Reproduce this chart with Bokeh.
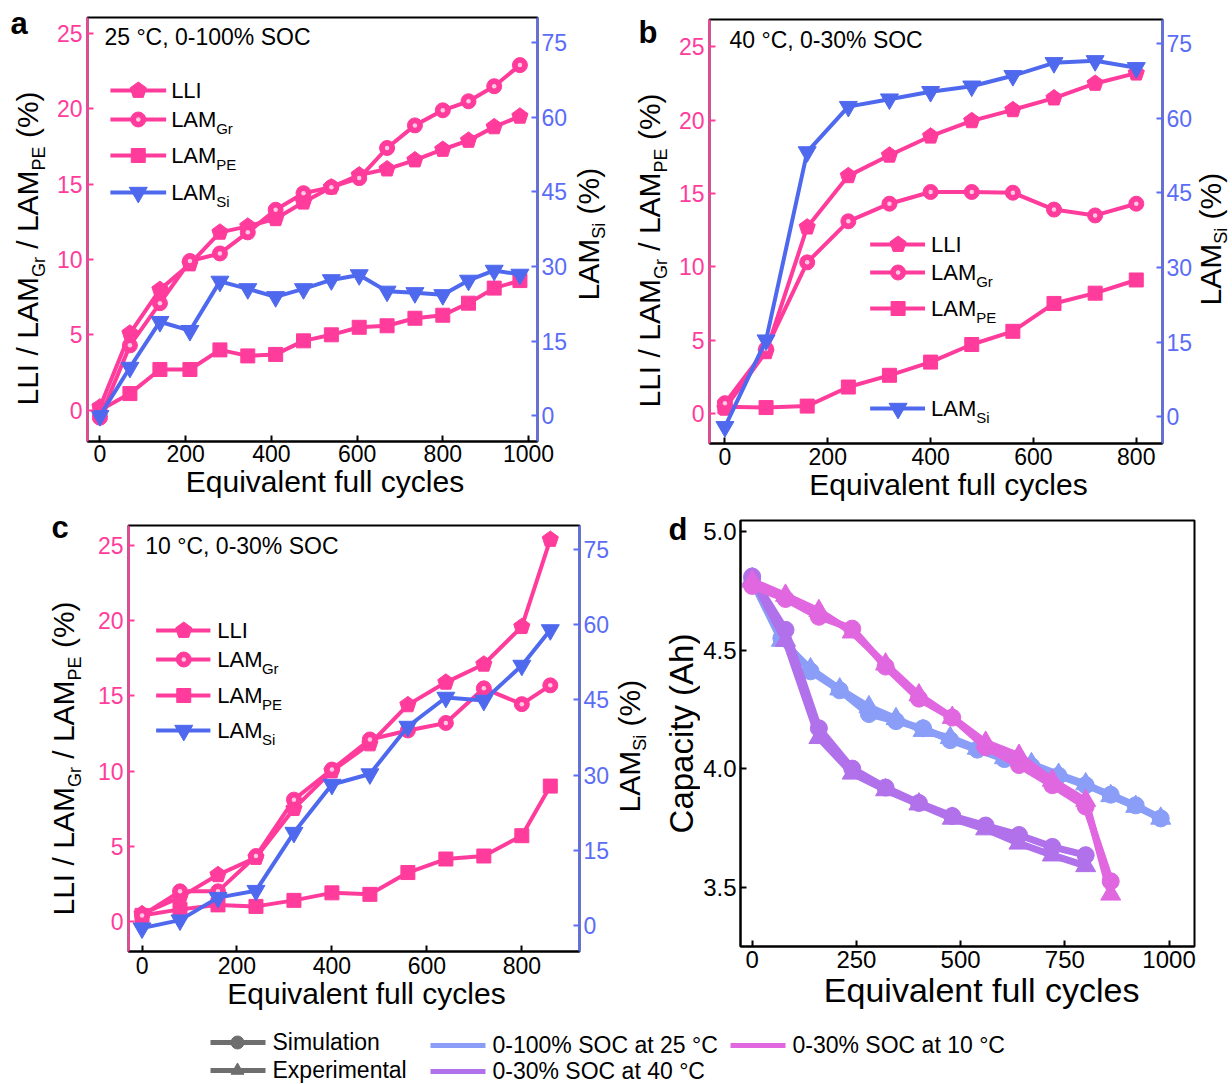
import math
from bokeh.plotting import figure
from bokeh.models import Range1d, LinearAxis, FixedTicker, Label, NumeralTickFormatter
from bokeh.layouts import column, row
from bokeh.embed import file_html
from bokeh.resources import INLINE

FONT = "Liberation Sans"
PINK = "#FF3C9C"
BLUE = "#4F69EE"
BLUE_AX = "#5B6CF6"
C25 = "#8A9EF8"
C40 = "#B071EA"
C10 = "#E067DF"
GRAY = "#6E6E6E"

# ---------------- data ----------------
a_cycles = [0, 70, 140, 210, 280, 345, 410, 475, 540, 605, 670, 735, 800, 860, 920, 980]
a_lli = [0.2, 5.1, 8.0, 9.7, 11.8, 12.2, 12.7, 13.8, 14.8, 15.6, 16.0, 16.6, 17.3, 17.9, 18.8, 19.5]
a_lam_gr = [-0.5, 4.3, 7.1, 9.9, 10.4, 11.8, 13.3, 14.4, 14.8, 15.4, 17.4, 18.9, 19.9, 20.5, 21.5, 22.9]
a_lam_pe = [0.0, 1.1, 2.7, 2.7, 4.0, 3.6, 3.7, 4.6, 5.0, 5.5, 5.6, 6.1, 6.3, 7.1, 8.1, 8.6]
a_lam_si = [0.0, 9.7, 18.9, 17.1, 27.0, 25.5, 23.9, 25.5, 27.3, 28.3, 25.0, 24.7, 24.3, 27.2, 29.2, 28.4]

b_cycles = [0, 80, 160, 240, 320, 400, 480, 560, 640, 720, 800]
b_lli = [0.35, 4.2, 12.7, 16.2, 17.6, 18.9, 19.95, 20.7, 21.5, 22.5, 23.2]
b_lam_gr = [0.7, 4.4, 10.3, 13.1, 14.3, 15.1, 15.1, 15.05, 13.9, 13.5, 14.3]
b_lam_pe = [0.45, 0.4, 0.5, 1.8, 2.6, 3.5, 4.7, 5.6, 7.5, 8.2, 9.1]
b_lam_si = [-2.0, 15.4, 53.2, 62.3, 63.8, 65.3, 66.4, 68.5, 71.1, 71.5, 70.1]

c_cycles = [0, 80, 160, 240, 320, 400, 480, 560, 640, 720, 800, 860]
c_lli = [0.5, 1.6, 3.1, 4.25, 7.5, 10.0, 11.8, 14.4, 15.9, 17.1, 19.6, 25.4]
c_lam_gr = [0.4, 2.0, 2.0, 4.35, 8.1, 10.1, 12.1, 12.7, 13.2, 15.5, 14.45, 15.7]
c_lam_pe = [0.4, 0.8, 1.1, 1.0, 1.4, 1.9, 1.8, 3.25, 4.15, 4.35, 5.7, 9.0]
c_lam_si = [-0.6, 1.0, 5.5, 6.9, 18.5, 28.1, 30.2, 39.7, 45.5, 44.9, 51.9, 59.0]

d_cyc_25 = [0, 70, 140, 210, 280, 345, 410, 475, 540, 605, 670, 735, 800, 860, 920, 980]
d_sim_25 = [4.80, 4.55, 4.41, 4.33, 4.23, 4.20, 4.17, 4.12, 4.08, 4.04, 4.01, 3.97, 3.93, 3.89, 3.845, 3.79]
d_exp_25 = [4.79, 4.54, 4.42, 4.335, 4.26, 4.21, 4.16, 4.13, 4.085, 4.045, 4.02, 3.975, 3.935, 3.885, 3.84, 3.79]
d_cyc_40 = [0, 80, 160, 240, 320, 400, 480, 560, 640, 720, 800]
d_sim_40 = [4.81, 4.585, 4.17, 4.0, 3.92, 3.855, 3.80, 3.76, 3.72, 3.67, 3.635]
d_exp_40 = [4.80, 4.54, 4.13, 3.98, 3.91, 3.85, 3.79, 3.745, 3.685, 3.635, 3.59]
d_cyc_10 = [0, 80, 160, 240, 320, 400, 480, 560, 640, 720, 800, 860]
d_sim_10 = [4.77, 4.715, 4.64, 4.59, 4.43, 4.295, 4.215, 4.09, 4.015, 3.93, 3.84, 3.525]
d_exp_10 = [4.79, 4.73, 4.665, 4.575, 4.44, 4.31, 4.215, 4.11, 4.055, 3.95, 3.865, 3.47]

left_ticks = [0, 5, 10, 15, 20, 25]
right_ticks = [0, 15, 30, 45, 60, 75]
d_y_ticks = [3.5, 4.0, 4.5, 5.0]
d_x_ticks = [0, 250, 500, 750, 1000]

# ---------------- helpers ----------------
AW = {' ': 278, '!': 278, '(': 333, ')': 333, '%': 889, '/': 278, '-': 333, ',': 278, '.': 278, '°': 400,
      'A': 667, 'B': 667, 'C': 722, 'D': 722, 'E': 667, 'F': 611, 'G': 778, 'H': 722, 'I': 278, 'J': 500,
      'K': 667, 'L': 556, 'M': 833, 'N': 722, 'O': 778, 'P': 667, 'Q': 778, 'R': 722, 'S': 667, 'T': 611,
      'U': 722, 'V': 667, 'W': 944, 'X': 667, 'Y': 667, 'Z': 611,
      'a': 556, 'b': 556, 'c': 500, 'd': 556, 'e': 556, 'f': 278, 'g': 556, 'h': 556, 'i': 222, 'j': 222,
      'k': 500, 'l': 222, 'm': 833, 'n': 556, 'o': 556, 'p': 556, 'q': 556, 'r': 333, 's': 500, 't': 278,
      'u': 556, 'v': 500, 'w': 722, 'x': 500, 'y': 500, 'z': 500}
for _d in "0123456789":
    AW[_d] = 556
MID = 0.358  # cap-centre above the baseline, in em
NB = "\u00a0"


def tw(text, size):
    return sum(AW.get(ch, 556) for ch in text) * size / 1000.0


class Geo:
    """maps page pixels to data coordinates of one figure"""
    def __init__(self, fl, ft, fr, fb, xr, yr):
        self.fl, self.ft, self.fr, self.fb = fl, ft, fr, fb
        self.xr, self.yr = xr, yr

    def d(self, px, py):
        x = self.xr[0] + (px - self.fl) / (self.fr - self.fl) * (self.xr[1] - self.xr[0])
        y = self.yr[1] - (py - self.ft) / (self.fb - self.ft) * (self.yr[1] - self.yr[0])
        return x, y


PAGE = Geo(0, 0, 1, 1, (0, 1), (1, 0))  # identity for page-coordinate strips


def base_fig(ox, oy, w, h, fl, ft, fr, fb, xr, yr):
    p = figure(width=w, height=h, x_range=Range1d(*xr), y_range=Range1d(*yr), title=None,
               output_backend="svg", toolbar_location=None,
               min_border_left=fl - ox, min_border_right=ox + w - fr,
               min_border_top=ft - oy, min_border_bottom=oy + h - fb)
    p.xgrid.visible = False
    p.ygrid.visible = False
    p.outline_line_color = "black"
    p.outline_line_width = 2
    p.background_fill_color = "white"
    p.border_fill_color = "white"
    return p, Geo(fl, ft, fr, fb, xr, yr)


def strip(ox, oy, w, h):
    s = figure(width=w, height=h, x_range=Range1d(ox, ox + w), y_range=Range1d(oy + h, oy),
               title=None, output_backend="svg", toolbar_location=None,
               x_axis_type=None, y_axis_type=None,
               min_border_left=0, min_border_right=0, min_border_top=0, min_border_bottom=0)
    s.outline_line_color = None
    s.xgrid.visible = False
    s.ygrid.visible = False
    s.background_fill_color = "white"
    s.border_fill_color = "white"
    return s


def style_axis(ax, color, label_color, ticks, size, standoff, tick_in=6):
    ax.ticker = FixedTicker(ticks=ticks)
    ax.axis_line_color = color
    ax.axis_line_width = 2
    ax.major_tick_line_color = color
    ax.major_tick_line_width = 2
    ax.major_tick_in = tick_in
    ax.major_tick_out = 0
    ax.minor_tick_line_color = None
    ax.major_label_text_font = FONT
    ax.major_label_text_font_size = f"{size}px"
    ax.major_label_text_color = label_color
    ax.major_label_standoff = standoff


def set_title(ax, text, size, standoff=0):
    ax.axis_label = text
    ax.axis_label_text_font = FONT
    ax.axis_label_text_font_size = f"{size}px"
    ax.axis_label_text_font_style = "normal"
    ax.axis_label_text_color = "black"
    ax.axis_label_standoff = standoff


def htext(p, geo, px, pybase, text, size, color="black", bold=False):
    x, y = geo.d(px, pybase - MID * size)
    p.add_layout(Label(x=x, y=y, text=text, text_font=FONT, text_font_size=f"{size}px",
                       text_font_style="bold" if bold else "normal", text_color=color,
                       text_align="left", text_baseline="middle"))


def hpieces(p, geo, px, pybase, pieces, color="black"):
    x = px
    for text, size, shift in pieces:
        htext(p, geo, x, pybase + shift, text, size, color)
        x += tw(text, size)


def vpieces(p, pxbase, pystart, pieces, color="black"):
    """rotated (bottom-to-top) text built from pieces; each piece centred on its own slot"""
    y = pystart
    for text, size, shift in pieces:
        shown = text.strip()
        lead = tw(text[:len(text) - len(text.lstrip())], size)
        wshown = tw(shown, size)
        yc = y - lead - wshown / 2.0
        p.add_layout(Label(x=pxbase + shift - MID * size, y=yc, text=shown, text_font=FONT,
                           text_font_size=f"{size}px", text_color=color, angle=math.pi / 2,
                           text_align="center", text_baseline="middle"))
        y -= tw(text, size)


def pentagon(p, xs, ys, color, r, **kw):
    try:
        p.ngon(x=xs, y=ys, radius=r, radius_units="screen", n=5, angle=0.0,
               fill_color=color, line_color=color, **kw)
    except Exception:
        p.scatter(xs, ys, marker="hex", size=2 * r, fill_color=color, line_color=color, **kw)


def sphere(p, xs, ys, color, size, **kw):
    p.scatter(xs, ys, marker="circle", size=size, fill_color=color, line_color=color, **kw)
    p.scatter(xs, ys, marker="circle", size=size * 0.3, fill_color="#FFC8E3", line_color=None, **kw)


LW = 4
YLAB = [("LLI / LAM", 30, 0), ("Gr", 18, 7), (" / LAM", 30, 0), ("PE", 18, 7), (" (%)", 30, 0)]
SILAB = [("LAM", 30, 0), ("Si", 18, 6), (" (%)", 30, 0)]


def deg_panel(ox, oy, w, h, frame, xr, yr, yr2, cycles, lli, gr, pe, si, xticks,
              note, note_pos, leg, xstand):
    fl, ft, fr, fb = frame
    p, geo = base_fig(ox, oy, w, h, fl, ft, fr, fb, xr, yr)
    p.extra_y_ranges = {"si": Range1d(*yr2)}
    style_axis(p.xaxis[0], "black", "black", xticks, 23, xstand)
    set_title(p.xaxis[0], NB * 3 + "Equivalent full cycles", 30, 0)
    style_axis(p.yaxis[0], PINK, PINK, left_ticks, 23, 5)
    ax2 = LinearAxis(y_range_name="si")
    style_axis(ax2, BLUE_AX, BLUE_AX, right_ticks, 23, 4)
    p.add_layout(ax2, "right")

    p.line(cycles, lli, line_color=PINK, line_width=LW, line_join="round")
    pentagon(p, cycles, lli, PINK, 8.5)
    p.line(cycles, pe, line_color=PINK, line_width=LW, line_join="round")
    p.scatter(cycles, pe, marker="square", size=14, fill_color=PINK, line_color=PINK)
    p.line(cycles, gr, line_color=PINK, line_width=LW, line_join="round")
    sphere(p, cycles, gr, PINK, 15)
    p.line(cycles, si, line_color=BLUE, line_width=LW, line_join="round", y_range_name="si")
    p.scatter(cycles, si, marker="inverted_triangle", size=18, fill_color=BLUE, line_color=BLUE,
              y_range_name="si")

    lx0, lx1, lxm, ltx, ys = leg
    entries = [("LLI", None, PINK, "pent"), ("LAM", "Gr", PINK, "sphere"),
               ("LAM", "PE", PINK, "square"), ("LAM", "Si", BLUE, "tri")]
    for (main, sub, col, mk), ly in zip(entries, ys):
        xa, ya = geo.d(lx0, ly)
        xb, _ = geo.d(lx1, ly)
        xm, _ = geo.d(lxm, ly)
        p.line([xa, xb], [ya, ya], line_color=col, line_width=LW)
        if mk == "pent":
            pentagon(p, [xm], [ya], col, 8.5)
        elif mk == "sphere":
            sphere(p, [xm], [ya], col, 15)
        elif mk == "square":
            p.scatter([xm], [ya], marker="square", size=14, fill_color=col, line_color=col)
        else:
            p.scatter([xm], [ya], marker="inverted_triangle", size=18, fill_color=col, line_color=col)
        pieces = [(main, 22, 0)]
        if sub:
            pieces.append((sub, 15, 6))
        hpieces(p, geo, ltx, ly + 8, pieces)

    htext(p, geo, note_pos[0], note_pos[1], note, 23)
    return p


H1 = 506
H2 = 1020 - H1

# ---------------- row 1 ----------------
sAL = strip(0, 0, 50, H1)
htext(sAL, PAGE, 10, 34, "a", 31, bold=True)
vpieces(sAL, 37.5, 405, YLAB)

pa = deg_panel(50, 0, 520, H1, (87, 17, 539, 441), (-29, 1021), (-2.08, 26.06), (-5.17, 80.03),
               a_cycles, a_lli, a_lam_gr, a_lam_pe, a_lam_si, [0, 200, 400, 600, 800, 1000],
               "25 °C, 0-100% SOC", (104, 45),
               (110, 166, 138, 171, [90, 119, 155, 192]), 3)

sM1 = strip(570, 0, 102, H1)
vpieces(sM1, 599, 300, SILAB)
htext(sM1, PAGE, 638, 43, "b", 31, bold=True)
vpieces(sM1, 660, 407, YLAB)

pb = deg_panel(672, 0, 523, H1, (709, 19, 1163, 443), (-30, 851), (-2.05, 26.86), (-5.36, 79.8),
               b_cycles, b_lli, b_lam_gr, b_lam_pe, b_lam_si, [0, 200, 400, 600, 800],
               "40 °C, 0-30% SOC", (729, 48),
               (870, 925, 898, 931, [244, 272, 308, 408]), 4)

sBR = strip(1195, 0, 37, H1)
vpieces(sBR, 1221, 305, SILAB)

# ---------------- row 2 ----------------
sCL = strip(0, H1, 94, H2)
htext(sCL, PAGE, 51, 538, "c", 31, bold=True)
vpieces(sCL, 74, 915, YLAB)

pc = deg_panel(94, H1, 518, H2, (124, 525, 581, 951), (-28.5, 921.5), (-2.0, 26.33), (-5.27, 79.87),
               c_cycles, c_lli, c_lam_gr, c_lam_pe, c_lam_si, [0, 200, 400, 600, 800],
               "10 °C, 0-30% SOC", (141, 554),
               (152, 207, 180, 214, [630, 659, 695, 730]), 5)

sM2 = strip(612, H1, 88, H2)
vpieces(sM2, 640, 812, SILAB)
htext(sM2, PAGE, 668, 540, "d", 31, bold=True)
cap_text = "Capacity (Ah)"
vpieces(sM2, 693, 733 + tw(cap_text, 33) / 2, [(cap_text, 33, 0)])

pd_, gd = base_fig(700, H1, 532, H2, 739, 520, 1194, 946, (-28, 1061), (3.25, 5.046))
style_axis(pd_.xaxis[0], "black", "black", d_x_ticks, 24, 4)
set_title(pd_.xaxis[0], NB * 3 + "Equivalent full cycles", 34, 0)
style_axis(pd_.yaxis[0], "black", "black", d_y_ticks, 24, 4)
pd_.yaxis[0].formatter = NumeralTickFormatter(format="0.0")

for cyc, sim, exp, col in [(d_cyc_25, d_sim_25, d_exp_25, C25),
                           (d_cyc_40, d_sim_40, d_exp_40, C40),
                           (d_cyc_10, d_sim_10, d_exp_10, C10)]:
    pd_.line(cyc, sim, line_color=col, line_width=7, line_join="round")
    pd_.scatter(cyc, sim, marker="circle", size=17, fill_color=col, line_color=col)
    pd_.line(cyc, exp, line_color=col, line_width=7, line_join="round")
    pd_.scatter(cyc, exp, marker="triangle", size=20, fill_color=col, line_color=col)

# ---------------- bottom legend ----------------
pl = strip(0, 1020, 1232, 64)
leg_items = [("Simulation", GRAY, "circle", 210, 1042),
             ("Experimental", GRAY, "triangle", 210, 1070),
             ("0-100% SOC at 25 °C", C25, None, 430, 1045),
             ("0-30% SOC at 40 °C", C40, None, 430, 1071),
             ("0-30% SOC at 10 °C", C10, None, 730, 1045)]
for text, col, mk, lx, ly in leg_items:
    pl.line([lx, lx + 55], [ly, ly], line_color=col, line_width=5)
    if mk:
        pl.scatter([lx + 27], [ly], marker=mk, size=13, fill_color=col, line_color=col)
    htext(pl, PAGE, lx + 62, ly + 8, text, 23)

# each child wrapped on its own so that the row does not align the plot frames
C = column
layout = column(row(C(sAL), C(pa), C(sM1), C(pb), C(sBR)),
                row(C(sCL), C(pc), C(sM2), C(pd_)),
                pl)
open("out.html", "w").write(file_html(layout, INLINE))
